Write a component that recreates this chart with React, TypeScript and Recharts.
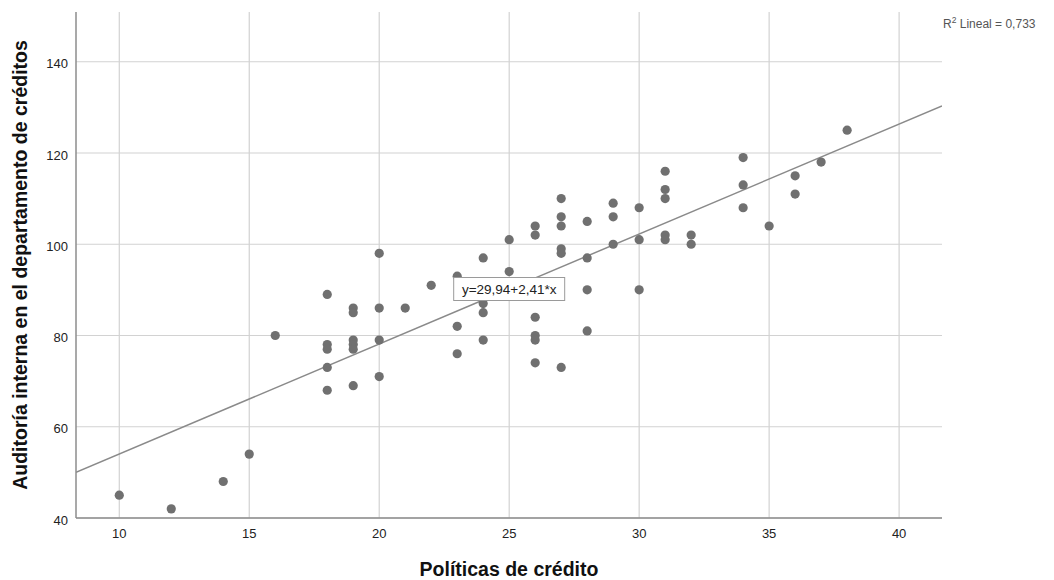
import React from "react";
import {
  ScatterChart,
  Scatter,
  XAxis,
  YAxis,
  CartesianGrid,
  ReferenceLine,
  ReferenceDot,
} from "recharts";

// Políticas de crédito (x) vs Auditoría interna (y)
const politicas = [
  10, 12, 14, 15, 16,
  18, 18, 18, 18, 18,
  19, 19, 19, 19, 19, 19,
  20, 20, 20, 20,
  21, 22,
  23, 23, 23,
  24, 24, 24, 24,
  25, 25,
  26, 26, 26, 26, 26, 26,
  27, 27, 27, 27, 27, 27,
  28, 28, 28, 28,
  29, 29, 29,
  30, 30, 30,
  31, 31, 31, 31, 31,
  32, 32,
  34, 34, 34,
  35, 36, 36, 37, 38,
];
const auditoria = [
  45, 42, 48, 54, 80,
  89, 78, 77, 73, 68,
  86, 85, 79, 78, 77, 69,
  98, 86, 79, 71,
  86, 91,
  93, 82, 76,
  97, 87, 85, 79,
  101, 94,
  104, 102, 84, 80, 79, 74,
  110, 106, 104, 99, 98, 73,
  105, 97, 90, 81,
  109, 106, 100,
  108, 101, 90,
  116, 112, 110, 102, 101,
  102, 100,
  119, 113, 108,
  104, 115, 111, 118, 125,
];

const xTicks = [10, 15, 20, 25, 30, 35, 40];
const yTicks = [40, 60, 80, 100, 120, 140];

const intercept = 29.94;
const slope = 2.41;
const xDomain: [number, number] = [8.335, 41.65];
const yDomain: [number, number] = [40, 150.9];

const points = politicas.map((x, i) => ({ x, y: auditoria[i] }));
const fit = (x: number) => intercept + slope * x;
const labelX = 25;

const FONT = '"Liberation Sans", Arial, sans-serif';

// grid only at the tick values (no lines on the top / right edges)
const gridY = ({ offset }: any) =>
  yTicks.map(
    (t) => offset.top + offset.height * (1 - (t - yDomain[0]) / (yDomain[1] - yDomain[0]))
  );
const gridX = ({ offset }: any) =>
  xTicks.map(
    (t) => offset.left + (offset.width * (t - xDomain[0])) / (xDomain[1] - xDomain[0])
  );

function EquationBox({ cx, cy }: { cx?: number; cy?: number }) {
  if (cx == null || cy == null) return null;
  const w = 111;
  const h = 23;
  return (
    <g>
      <rect
        x={cx - w / 2}
        y={cy - h / 2}
        width={w}
        height={h}
        fill="#fff"
        stroke="#9a9a9a"
        strokeWidth={1}
      />
      <text
        x={cx}
        y={cy + 1}
        textAnchor="middle"
        dominantBaseline="central"
        fontFamily={FONT}
        fontSize={13.5}
        fill="#222"
      >
        y=29,94+2,41*x
      </text>
    </g>
  );
}

export default function App() {
  return (
    <div style={{ position: "absolute", left: 0, top: 0, width: 1054, height: 580, background: "#fff" }}>
      <ScatterChart
        width={1054}
        height={580}
        margin={{ top: 12, right: 112, bottom: 0, left: 0 }}
        style={{ fontFamily: FONT }}
      >
        <CartesianGrid
          stroke="#d2d2d2"
          strokeWidth={1.2}
          horizontalCoordinatesGenerator={gridY}
          verticalCoordinatesGenerator={gridX}
        />
        <XAxis
          type="number"
          dataKey="x"
          domain={xDomain}
          ticks={xTicks}
          allowDataOverflow
          height={62}
          tickLine={false}
          tickMargin={5}
          axisLine={{ stroke: "#8c8c8c", strokeWidth: 1.5 }}
          tick={{ fontSize: 13, fill: "#222", fontFamily: FONT }}
          label={{
            value: "Políticas de crédito",
            position: "insideBottom",
            offset: 4,
            style: { fontSize: 19.5, fontWeight: "bold", fill: "#111", fontFamily: FONT },
          }}
        />
        <YAxis
          type="number"
          dataKey="y"
          domain={yDomain}
          ticks={yTicks}
          allowDataOverflow
          width={76}
          tickLine={false}
          axisLine={{ stroke: "#8c8c8c", strokeWidth: 1.5 }}
          tick={{ fontSize: 13, fill: "#222", fontFamily: FONT, dy: 2 }}
          label={{
            value: "Auditoría interna en el departamento de créditos",
            angle: -90,
            position: "insideLeft",
            offset: 20,
            style: { fontSize: 19.5, fontWeight: "bold", fill: "#111", fontFamily: FONT, textAnchor: "middle" },
          }}
        />
        <ReferenceLine
          segment={[
            { x: xDomain[0], y: fit(xDomain[0]) },
            { x: xDomain[1], y: fit(xDomain[1]) },
          ]}
          stroke="#8a8a8a"
          strokeWidth={1.5}
          ifOverflow="hidden"
        />
        <Scatter
          data={points}
          fill="#707070"
          isAnimationActive={false}
          shape={(p: any) => <circle cx={p.cx} cy={p.cy} r={4.6} fill="#707070" />}
        />
        <ReferenceDot
          x={labelX}
          y={fit(labelX)}
          r={0}
          shape={(p: any) => <EquationBox cx={p.cx} cy={p.cy} />}
        />
      </ScatterChart>
      <div
        style={{
          position: "absolute",
          left: 943,
          top: 15,
          fontFamily: FONT,
          fontSize: 12,
          color: "#555",
          whiteSpace: "nowrap",
        }}
      >
        R<sup style={{ fontSize: 8.5 }}>2</sup> Lineal = 0,733
      </div>
    </div>
  );
}
